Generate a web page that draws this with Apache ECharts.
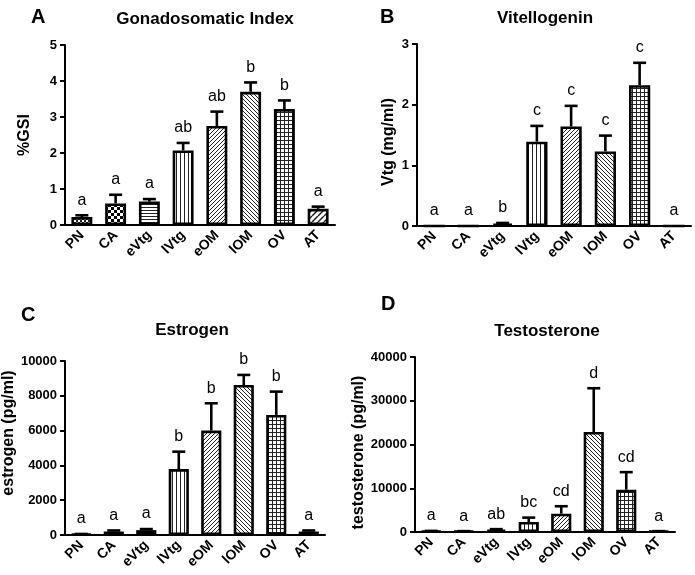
<!DOCTYPE html>
<html><head><meta charset="utf-8">
<script src="https://cdn.jsdelivr.net/npm/echarts@6/dist/echarts.min.js"></script>
<style>html,body{margin:0;padding:0;background:#fff}#c{width:695px;height:575px}</style>
</head><body><div id="c"></div>
<script>
const categories = ['PN','CA','eVtg','lVtg','eOM','lOM','OV','AT'];

const gsiMean = [0.22, 0.60, 0.65, 2.07, 2.75, 3.70, 3.22, 0.45];
const gsiSem  = [0.05, 0.24, 0.07, 0.21, 0.40, 0.26, 0.24, 0.06];
const gsiLetters = ['a','a','a','ab','ab','b','b','a'];
const gsiTicks = [0, 5, 1];

const vtgMean = [0, 0, 0.04, 1.39, 1.64, 1.23, 2.32, 0];
const vtgSem  = [0, 0, 0.01, 0.26, 0.34, 0.26, 0.37, 0];
const vtgLetters = ['a','a','b','c','c','c','c','a'];
const vtgTicks = [0, 3, 1];

const e2Mean = [50, 200, 280, 3790, 6000, 8620, 6900, 200];
const e2Sem  = [10, 60, 60, 1000, 1570, 580, 1340, 60];
const e2Letters = ['a','a','a','b','b','b','b','a'];
const e2Ticks = [0, 10000, 2000];

const tMean = [200, 150, 500, 2290, 4190, 22860, 9680, 150];
const tSem  = [50, 50, 150, 1000, 1700, 10000, 4000, 50];
const tLetters = ['a','a','ab','bc','cd','d','cd','a'];
const tTicks = [0, 40000, 10000];

const FONT = '"Liberation Sans", Arial, sans-serif';

function makePattern(kind){
  const c = document.createElement('canvas');
  const sizes = {fine:4, checker:6, hlines:3, vlines:4, diagR:4, diagL:4, grid:4, diagRc:6};
  const s = sizes[kind];
  c.width = s; c.height = s;
  const g = c.getContext('2d');
  g.fillStyle = '#fff'; g.fillRect(0,0,s,s);
  g.fillStyle = '#222'; g.strokeStyle = '#222';
  if (kind === 'fine') { g.fillRect(0,0,2,2); g.fillRect(2,2,2,2); }
  else if (kind === 'checker') { g.fillStyle = '#000'; g.fillRect(0,0,3,3); g.fillRect(3,3,3,3); }
  else if (kind === 'hlines') { g.fillRect(0,0,s,1); }
  else if (kind === 'vlines') { g.fillRect(0,0,1,s); }
  else if (kind === 'grid') { g.fillRect(0,0,s,1); g.fillRect(0,0,1,s); }
  else {
    g.lineWidth = kind === 'diagRc' ? 1.5 : 1;
    for (const k of [-s, 0, s]) {
      g.beginPath();
      if (kind === 'diagL') { g.moveTo(k, 0); g.lineTo(k + s, s); }
      else { g.moveTo(k, s); g.lineTo(k + s, 0); }
      g.stroke();
    }
  }
  return {image: c, repeat: 'repeat'};
}
const patternKinds = ['fine','checker','hlines','vlines','diagR','diagL','grid','diagRc'];
const patterns = patternKinds.map(makePattern);

const grids = [
  {left: 65, top: 45, width: 270, height: 180},
  {left: 417, top: 44, width: 274, height: 182},
  {left: 62, top: 361, width: 263, height: 174},
  {left: 415, top: 357, width: 260, height: 175}
];
const panels = [
  {mean: gsiMean, sem: gsiSem, letters: gsiLetters, ticks: gsiTicks, name: '%GSI', gap: 32, pad: [0, 0, 0, 0]},
  {mean: vtgMean, sem: vtgSem, letters: vtgLetters, ticks: vtgTicks, name: 'Vtg (mg/ml)', gap: 20, pad: [0, 14, 0, 0]},
  {mean: e2Mean, sem: e2Sem, letters: e2Letters, ticks: e2Ticks, name: 'estrogen (pg/ml)', gap: 39, pad: [0, 0, 0, 30]},
  {mean: tMean, sem: tSem, letters: tLetters, ticks: tTicks, name: 'testosterone (pg/ml)', gap: 42, pad: [0, 16, 0, 0]}
];

const xAxes = [], yAxes = [], series = [];
panels.forEach((p, k) => {
  xAxes.push({
    type: 'category', gridIndex: k, data: categories,
    axisLine: {lineStyle: {color: '#000', width: 2}},
    axisTick: {alignWithLabel: true, interval: 0, length: 5, lineStyle: {color: '#000', width: 2}},
    axisLabel: {rotate: 45, interval: 0, margin: 8, color: '#000', fontWeight: 'bold', fontSize: 14, fontFamily: FONT}
  });
  yAxes.push({
    type: 'value', gridIndex: k, min: p.ticks[0], max: p.ticks[1], interval: p.ticks[2],
    name: p.name, nameLocation: 'middle', nameGap: p.gap,
    nameTextStyle: {color: '#000', fontWeight: 'bold', fontSize: 16, fontFamily: FONT, padding: p.pad},
    splitLine: {show: false},
    axisLine: {show: true, lineStyle: {color: '#000', width: 2}},
    axisTick: {show: true, length: 5, lineStyle: {color: '#000', width: 2}},
    axisLabel: {color: '#000', fontWeight: 'bold', fontSize: 13, fontFamily: FONT, margin: 8,
      formatter: v => String(v)}
  });
  series.push({
    type: 'bar', xAxisIndex: k, yAxisIndex: k, barWidth: '62%',
    data: p.mean.map((v, i) => ({value: v, itemStyle: {color: patterns[i]}})),
    itemStyle: {borderColor: '#000', borderWidth: 2.6},
    emphasis: {disabled: true}, animation: false
  });
  series.push({
    type: 'custom', xAxisIndex: k, yAxisIndex: k, z: 5,
    data: p.mean.map((v, i) => [i, v + p.sem[i]]),
    renderItem: function(params, api){
      const i = params.dataIndex;
      const base = api.coord([i, p.mean[i]]);
      const top = api.coord([i, p.mean[i] + p.sem[i]]);
      const children = [];
      if (p.sem[i] > 0) {
        children.push({type: 'line', shape: {x1: base[0], y1: base[1], x2: top[0], y2: top[1]}, style: {stroke: '#000', lineWidth: 2.6}});
        children.push({type: 'line', shape: {x1: top[0] - 6.5, y1: top[1], x2: top[0] + 6.5, y2: top[1]}, style: {stroke: '#000', lineWidth: 2.6}});
      }
      children.push({type: 'text', x: top[0], y: top[1] - 7,
        style: {text: p.letters[i], fill: '#000', font: '16px ' + FONT, align: 'center', verticalAlign: 'bottom'}});
      return {type: 'group', children};
    },
    animation: false
  });
});

function label(text, x, y, size, align){
  return {type: 'text', x: x, y: y, style: {text: text, fill: '#000', font: 'bold ' + size + 'px ' + FONT, textAlign: align, textVerticalAlign: 'middle'}};
}

const chart = echarts.init(document.getElementById('c'));
chart.setOption({
  animation: false,
  grid: grids,
  xAxis: xAxes,
  yAxis: yAxes,
  series: series,
  graphic: [
    label('A', 31, 17, 20, 'left'),
    label('B', 380, 17, 20, 'left'),
    label('C', 21, 315, 20, 'left'),
    label('D', 381, 304, 20, 'left'),
    label('Gonadosomatic Index', 205, 19, 17, 'center'),
    label('Vitellogenin', 545, 18, 17, 'center'),
    label('Estrogen', 192, 330, 17, 'center'),
    label('Testosterone', 547, 331, 17, 'center')
  ]
});
</script>
</body></html>
